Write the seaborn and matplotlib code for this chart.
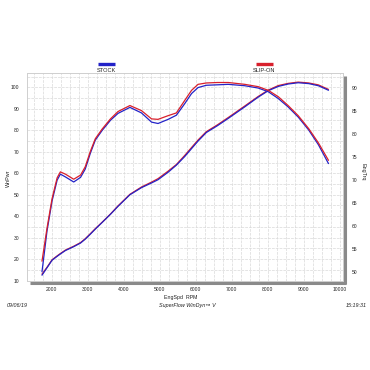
import numpy as np
import pandas as pd
import matplotlib
matplotlib.use("Agg")
import matplotlib.pyplot as plt
from matplotlib.lines import Line2D
from matplotlib.ticker import MultipleLocator
import seaborn as sns

# ---------------- data ----------------
rpm = [1730, 1870, 2010, 2150, 2240, 2380, 2610, 2800, 2930, 3070, 3210, 3400,
       3630, 3840, 4170, 4490, 4770, 4950, 5230, 5460, 5690, 5880, 6060, 6290,
       6600, 6900, 7360, 7730, 8010, 8290, 8560, 8840, 9130, 9400, 9680]

trq_stock = [50.1, 59.0, 65.5, 70.0, 71.3, 70.7, 69.6, 70.6, 72.4, 75.8, 78.7, 80.8,
             83.0, 84.5, 85.8, 84.6, 82.6, 82.3, 83.2, 84.1, 86.6, 88.8, 90.1, 90.6,
             90.7, 90.8, 90.5, 90.0, 89.2, 87.7, 85.9, 83.7, 80.9, 77.7, 73.6]
trq_slipon = [52.4, 59.6, 66.0, 70.5, 71.8, 71.3, 70.2, 71.1, 72.9, 76.2, 79.0, 81.1,
              83.3, 84.9, 86.2, 85.1, 83.3, 83.2, 84.0, 84.6, 87.3, 89.5, 90.8, 91.1,
              91.2, 91.2, 90.8, 90.3, 89.5, 88.1, 86.2, 84.0, 81.2, 78.1, 74.3]

pwr_stock = [12.5, 16.0, 19.5, 21.3, 22.4, 24.0, 25.8, 27.5, 29.3, 31.6, 34.0, 37.1,
             40.9, 44.6, 50.0, 53.3, 55.5, 57.0, 60.5, 63.8, 67.8, 71.5, 75.0, 79.0,
             82.2, 85.6, 91.0, 95.5, 98.5, 100.5, 101.6, 102.2, 101.8, 100.8, 98.7]
pwr_slipon = [13.0, 16.2, 19.7, 21.5, 22.6, 24.2, 26.0, 27.7, 29.5, 31.8, 34.2, 37.2,
              41.0, 44.8, 50.2, 53.6, 55.9, 57.5, 61.0, 64.1, 68.3, 72.0, 75.5, 79.4,
              82.6, 86.0, 91.4, 95.8, 98.8, 100.9, 101.9, 102.5, 102.1, 101.2, 99.1]

configs = ["STOCK", "SLIP-ON"]
colors = {"STOCK": "#2323c8", "SLIP-ON": "#d8202c"}

left_ticks = [10, 20, 30, 40, 50, 60, 70, 80, 90, 100]
right_ticks = [50, 55, 60, 65, 70, 75, 80, 85, 90]
x_ticks = [2000, 3000, 4000, 5000, 6000, 7000, 8000, 9000, 10000]

df_pwr = pd.DataFrame({
    "rpm": rpm * 2,
    "val": pwr_stock + pwr_slipon,
    "cfg": ["STOCK"] * len(rpm) + ["SLIP-ON"] * len(rpm),
})
df_trq = pd.DataFrame({
    "rpm": rpm * 2,
    "val": trq_stock + trq_slipon,
    "cfg": ["STOCK"] * len(rpm) + ["SLIP-ON"] * len(rpm),
})

# ---------------- figure ----------------
sns.set_style("white")
plt.rcParams["font.family"] = ["Liberation Sans", "DejaVu Sans"]

W = H = 370
fig = plt.figure(figsize=(3.7, 3.7), dpi=100)
fig.patch.set_facecolor("white")

L, R, T, B = 27, 343, 73.3, 281
ax = fig.add_axes([L / W, 1 - B / H, (R - L) / W, (B - T) / H])
ax.set_xlim(1314, 10083)
ax.set_ylim(9.8, 106.6)

ax2 = ax.twinx()
ax2.set_ylim(48.1, 93.2)

# grid
ax.xaxis.set_minor_locator(MultipleLocator(250))
ax.yaxis.set_minor_locator(MultipleLocator(5))
ax.set_axisbelow(True)
ax.grid(which="both", color="#d9d9d9", lw=0.5, ls=(0, (4, 1.5)))

# curves
for cfg in ["SLIP-ON", "STOCK"]:
    sns.lineplot(data=df_pwr[df_pwr.cfg == cfg], x="rpm", y="val", ax=ax,
                 color=colors[cfg], lw=0.9, estimator=None, sort=False, legend=False)
for cfg in ["STOCK", "SLIP-ON"]:
    sns.lineplot(data=df_trq[df_trq.cfg == cfg], x="rpm", y="val", ax=ax2,
                 color=colors[cfg], lw=0.9, estimator=None, sort=False, legend=False)

# ticks
fs_tick = 3.6
ax.set_xticks(x_ticks)
ax.set_xticklabels([str(v) for v in x_ticks])
ax.set_yticks(left_ticks)
ax.set_yticklabels([str(v) for v in left_ticks])
ax2.set_yticks(right_ticks)
ax2.set_yticklabels([str(v) for v in right_ticks])
ax.tick_params(axis="both", which="both", length=0, labelsize=fs_tick, colors="#222222")
ax.tick_params(axis="y", pad=5.5)
ax.tick_params(axis="x", pad=4.5)
ax2.tick_params(axis="y", which="both", length=0, labelsize=fs_tick, pad=6, colors="#222222")

ax.set_xlabel("")
ax.set_ylabel("")
ax2.set_ylabel("")

for a in (ax, ax2):
    for s in a.spines.values():
        s.set_color("#cfcfcf")
        s.set_linewidth(0.6)

# axis titles
fig.text(8.5 / W, 1 - 178 / H, "WhPwr", rotation=90, ha="center", va="center",
         fontsize=3.9, color="#222222")
fig.text(363 / W, 1 - 172 / H, "EngTrq", rotation=270, ha="center", va="center",
         fontsize=3.9, color="#222222")
fig.text(181 / W, 1 - 297.5 / H, "EngSpd  RPM", ha="center", va="center",
         fontsize=3.8, color="#222222")

# shadow
fig.add_artist(Line2D([344.6 / W] * 2, [1 - 76 / H, 1 - 284 / H], color="#8a8a8a", lw=2.2,
                      solid_capstyle="butt"))
fig.add_artist(Line2D([30 / W, 346 / W], [1 - 282.6 / H] * 2, color="#8a8a8a", lw=2.2,
                      solid_capstyle="butt"))

# legend
for cfg, x0, x1, xc in [("STOCK", 98, 115, 106.7), ("SLIP-ON", 256, 273, 264.3)]:
    fig.add_artist(Line2D([x0 / W, x1 / W], [1 - 64 / H] * 2, color=colors[cfg], lw=2.4,
                          solid_capstyle="butt"))
    fig.text(xc / W, 1 - 70.2 / H, cfg, ha="center", va="center", fontsize=4.1,
             color="#222222")

# footer
fig.text(7 / W, 1 - 305.7 / H, "09/06/19", ha="left", va="center", fontsize=3.9,
         style="italic", color="#222222")
fig.text(187 / W, 1 - 305.7 / H, "SuperFlow WinDyn\u2122 V", ha="center", va="center",
         fontsize=3.9, style="italic", color="#222222")
fig.text(367 / W, 1 - 305.7 / H, "15:19:31", ha="right", va="center", fontsize=3.9,
         style="italic", color="#222222")

fig.savefig("out.png", dpi=100, facecolor="white")
